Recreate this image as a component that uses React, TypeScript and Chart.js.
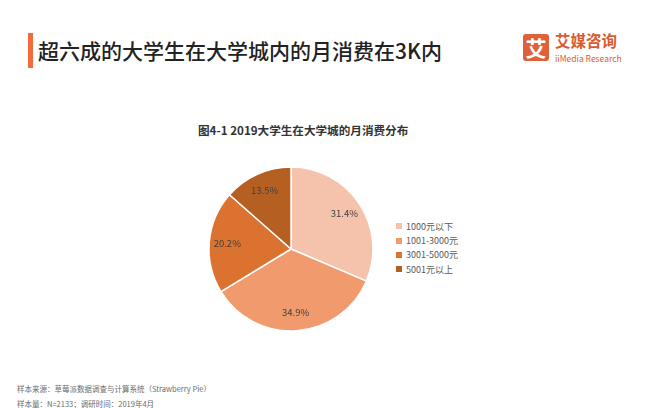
import React, { useEffect, useRef } from 'react';
import { Chart, registerables } from 'chart.js';

Chart.register(...registerables);

const categories = ['1000元以下', '1001-3000元', '3001-5000元', '5001元以上'];
const shares = [31.4, 34.9, 20.2, 13.5];
const sliceColors = ['#F5C2AC', '#F09A6D', '#DB722F', '#B65F23'];
const titleText = '超六成的大学生在大学城内的月消费在3K内';
const chartTitle = '图4-1 2019大学生在大学城的月消费分布';
const sourceNote = '样本来源：草莓派数据调查与计算系统（Strawberry Pie）';
const sampleNote = '样本量：N=2133；调研时间：2019年4月';
const brandName = '艾媒咨询';
const brandSub = 'iiMedia Research';

const FONT = "'Noto Sans CJK SC', 'Noto Sans', sans-serif";

const sliceLabels = {
  id: 'sliceLabels',
  afterDatasetsDraw(chart: any) {
    const ctx = chart.ctx;
    const meta = chart.getDatasetMeta(0);
    ctx.save();
    ctx.font = `9.5px ${FONT}`;
    ctx.fillStyle = '#404040';
    ctx.textAlign = 'center';
    ctx.textBaseline = 'middle';
    meta.data.forEach((arc: any, i: number) => {
      const p = arc.getProps(['x', 'y', 'startAngle', 'endAngle', 'outerRadius'], true);
      const mid = (p.startAngle + p.endAngle) / 2;
      const r = p.outerRadius * 0.78;
      ctx.fillText(shares[i].toFixed(1) + '%', p.x + Math.cos(mid) * r, p.y + Math.sin(mid) * r);
    });
    ctx.restore();
  },
};

export default function App() {
  const canvasRef = useRef<HTMLCanvasElement | null>(null);

  useEffect(() => {
    if (!canvasRef.current) return;
    const chart = new Chart(canvasRef.current, {
      type: 'pie',
      data: {
        labels: categories,
        datasets: [
          {
            data: shares,
            backgroundColor: sliceColors,
            borderColor: '#ffffff',
            borderWidth: 1.5,
            radius: 82,
          } as any,
        ],
      },
      options: {
        responsive: false,
        animation: false,
        devicePixelRatio: 1,
        layout: { padding: 0 },
        plugins: {
          legend: { display: false },
          tooltip: { enabled: false },
        },
      },
      plugins: [sliceLabels],
    });
    return () => chart.destroy();
  }, []);

  return (
    <div
      style={{
        position: 'absolute',
        left: 0,
        top: 0,
        width: 662,
        height: 408,
        background: '#ffffff',
        overflow: 'hidden',
        fontFamily: FONT,
      }}
    >
      <div style={{ position: 'absolute', left: 28, top: 33, width: 5, height: 35, background: '#F26B3A' }} />
      <div
        style={{
          position: 'absolute',
          left: 38,
          top: 36,
          fontSize: 21,
          lineHeight: '28px',
          fontWeight: 500,
          color: '#222222',
          whiteSpace: 'nowrap',
        }}
      >
        {titleText}
      </div>

      <div
        style={{
          position: 'absolute',
          left: 523,
          top: 34,
          width: 26,
          height: 27,
          background: '#E0603A',
          borderRadius: 3,
          color: '#ffffff',
          fontSize: 21,
          fontWeight: 700,
          lineHeight: '27px',
          textAlign: 'center',
        }}
      >
        艾
      </div>
      <div
        style={{
          position: 'absolute',
          left: 555,
          top: 31,
          fontSize: 15.5,
          lineHeight: '19px',
          fontWeight: 700,
          color: '#DC5A30',
          whiteSpace: 'nowrap',
        }}
      >
        {brandName}
      </div>
      <div
        style={{
          position: 'absolute',
          left: 555,
          top: 53,
          fontSize: 8.5,
          lineHeight: '11px',
          color: '#DC5A30',
          whiteSpace: 'nowrap',
        }}
      >
        {brandSub}
      </div>

      <div
        style={{
          position: 'absolute',
          left: 198,
          top: 122,
          fontSize: 11.6,
          lineHeight: '16px',
          fontWeight: 700,
          color: '#333333',
          whiteSpace: 'nowrap',
        }}
      >
        {chartTitle}
      </div>

      <canvas
        ref={canvasRef}
        width={180}
        height={180}
        style={{ position: 'absolute', left: 201, top: 159, width: 180, height: 180 }}
      />

      <div style={{ position: 'absolute', left: 396, top: 219 }}>
        {categories.map((c, i) => (
          <div
            key={c}
            style={{
              display: 'flex',
              alignItems: 'center',
              height: 14.4,
              fontSize: 9,
              color: '#595959',
              whiteSpace: 'nowrap',
            }}
          >
            <span style={{ display: 'inline-block', width: 6, height: 6, background: sliceColors[i], marginRight: 4 }} />
            <span>{c}</span>
          </div>
        ))}
      </div>

      <div
        style={{
          position: 'absolute',
          left: 17,
          top: 381,
          fontSize: 7.5,
          lineHeight: '15px',
          color: '#6b6b6b',
          whiteSpace: 'nowrap',
        }}
      >
        <div>{sourceNote}</div>
        <div>{sampleNote}</div>
      </div>
    </div>
  );
}
